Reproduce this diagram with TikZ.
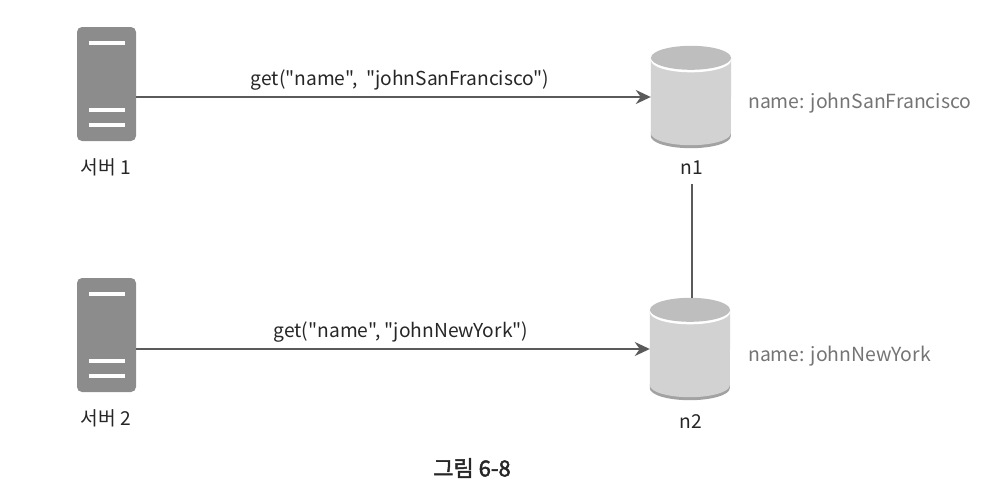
\documentclass[tikz,border=0pt]{standalone}
\usepackage{fontspec}
\newfontfamily\krfont{Noto Sans CJK KR}
\newfontfamily\capfont[FakeBold=2]{Noto Sans CJK KR}
\usetikzlibrary{arrows.meta, calc}
\definecolor{srvgray}{HTML}{8C8C8C}
\definecolor{dbbody}{HTML}{D2D2D2}
\definecolor{dbtop}{HTML}{BEBEBE}
\definecolor{dbedge}{HTML}{A2A2A2}
\definecolor{wire}{HTML}{5A5A5A}
\definecolor{valgray}{HTML}{747474}
\tikzset{ srv/.style = { rectangle
                       , fill = srvgray
                       , rounded corners = 5pt
                       , minimum width  = 59pt
                       , minimum height = 114pt
                       , inner sep = 0pt
                       },
          db/.style = { rectangle
                      , minimum width  = 80pt
                      , minimum height = 102pt
                      , inner sep = 0pt
                      },
          slot/.style = { draw = white
                        , line width = 3.5pt
                        },
          lbl/.style = { font = \krfont\fontsize{19.2}{22}\selectfont
                       , inner sep = 0pt
                       , text = black!85
                       },
          val/.style = { lbl
                       , anchor = west
                       , font = \krfont\fontsize{19.4}{22}\selectfont
                       , text = valgray
                       },
          wr/.style = { draw = wire
                      , line width = 2pt
                      }
        }
% one database, drawn inside its node: rim, body, white gap, lid
\newcommand{\dbshape}[1]{
    \fill[dbedge] ($(#1.south west)+(0,-16)$) -- ++(0,4) arc[start angle=180, end angle=0, x radius=40, y radius=12] -- ++(0,-4) -- cycle;
    \fill[dbbody] ($(#1.north west)+(0,12)$) -- ($(#1.south west)+(0,-15)$) arc[start angle=180, end angle=0, x radius=40, y radius=12] -- ($(#1.north east)+(0,12)$) -- cycle;
    \fill[white] (#1.north) ++(0,14.5) ellipse[x radius=40, y radius=12];
    \fill[dbtop] (#1.north) ++(0,12) ellipse[x radius=40, y radius=12];
}
% one server: three slots
\newcommand{\srvslots}[1]{
    \draw[slot] (#1.north) ++(-18,16) -- ++(36,0);
    \draw[slot] (#1.north) ++(-18,83) -- ++(36,0);
    \draw[slot] (#1.north) ++(-18,98) -- ++(36,0);
}
\begin{document}
\begin{tikzpicture}[x=1pt, y=-1pt]
    \useasboundingbox (0,0) rectangle (1004,496);

    \node[srv] (s1) at (106.5,84) {};
    \node[srv] (s2) at (106.5,335) {};
    \srvslots{s1}
    \srvslots{s2}
    \node[lbl] (ls1) at (106,167) {서버 1};
    \node[lbl] (ls2) at (106,418) {서버 2};

    \node[db] (n1) at (691,97) {};
    \node[db] (n2) at (690,349) {};
    \dbshape{n1}
    \dbshape{n2}
    \node[lbl] (ln1) at (691.5,168) {n1};
    \node[lbl] (ln2) at (691,422) {n2};

    \node[val] (v1) at (748,103) {name: johnSanFrancisco};
    \node[val] (v2) at (748,356) {name: johnNewYork};

    \draw[wr, -{Stealth[length=15pt, width=14pt]}] (s1.east |- n1) -- (n1.west);
    \draw[wr, -{Stealth[length=15pt, width=14pt]}] (s2.east |- n2) -- (n2.west);
    \node[lbl] (g1) at (400,80) {get("name",\ \ "johnSanFrancisco")};
    \node[lbl] (g2) at (401,332) {get("name", "johnNewYork")};
    \draw[wr] (ln1.south) ++(0,9) -- (ln1 |- n2.north);

    \node[lbl, font=\capfont\fontsize{22}{24}\selectfont] (cap) at (472,468) {그림 6-8};
\end{tikzpicture}
\end{document}
